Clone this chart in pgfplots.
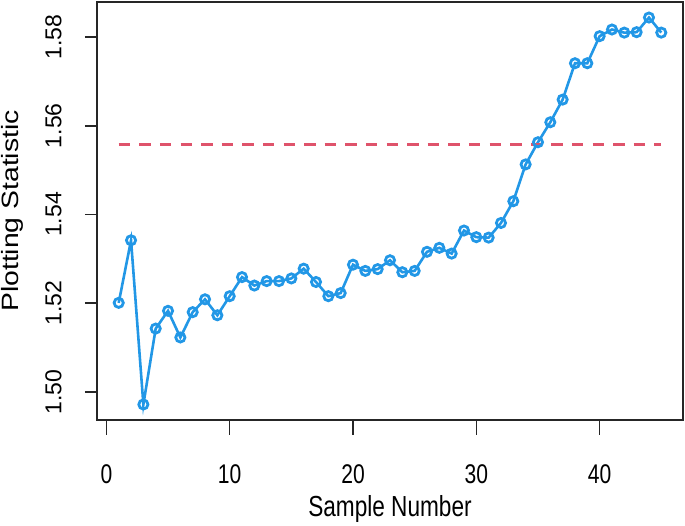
\documentclass[border=0pt]{standalone}
\usepackage{fontspec}
\setmainfont{Liberation Sans}
\newfontfamily\xfont{Liberation Sans}[FakeStretch=0.78]
\newfontfamily\yfont{Liberation Sans}[FakeStretch=1.2]
\usepackage{pgfplots}
\pgfplotsset{compat=1.18}

\definecolor{rblue}{HTML}{2297E6}
\definecolor{rred}{HTML}{DF536B}

\begin{document}
\begin{tikzpicture}
    \begin{axis}[
            scale only axis,
            width=293pt, height=209pt,
            xmin=-0.76, xmax=46.76,
            ymin=1.4937, ymax=1.5879,
            axis line style={line width=0.9pt, black!85},
            tick align=outside,
            xtick pos=bottom, ytick pos=left,
            xtick={0,10,20,30,40},
            ytick={1.50,1.52,1.54,1.56,1.58},
            xtick style={line width=0.8pt, black!85, /pgfplots/major tick length=7.5pt},
            ytick style={line width=0.8pt, black!85, /pgfplots/major tick length=6pt},
            /pgf/number format/assume math mode=true,
            yticklabel style={/pgf/number format/fixed, /pgf/number format/fixed zerofill, /pgf/number format/precision=2},
            xticklabel style={font=\xfont\fontsize{13.5}{14}\selectfont, anchor=base, inner sep=0pt},
            yticklabel style={font=\fontsize{11.5}{12}\selectfont, rotate=90, anchor=base, inner sep=0pt},
            xticklabel shift=27.5pt,
            yticklabel shift=13.5pt,
            xlabel={Sample Number},
            ylabel={Plotting Statistic},
            xlabel style={font=\xfont\fontsize{14.5}{15}\selectfont, at={(axis description cs:0.5,-0.2297)}, anchor=base, inner sep=0pt},
            ylabel style={font=\yfont\fontsize{11.8}{12}\selectfont, at={(axis description cs:-0.1341,0.5)}, anchor=base, inner sep=0pt},
        ]
        \addplot [rblue, line width=1.3pt, mark=o, mark size=2.3pt, mark options={line width=1.4pt}]
        table {%
            x  y
            1  1.5201
            2  1.5342
            3  1.4972
            4  1.5143
            5  1.5183
            6  1.5123
            7  1.5180
            8  1.5209
            9  1.5173
            10 1.5216
            11 1.5259
            12 1.5240
            13 1.5250
            14 1.5250
            15 1.5256
            16 1.5278
            17 1.5248
            18 1.5216
            19 1.5223
            20 1.5287
            21 1.5273
            22 1.5277
            23 1.5297
            24 1.5270
            25 1.5273
            26 1.5316
            27 1.5325
            28 1.5312
            29 1.5364
            30 1.5349
            31 1.5348
            32 1.5381
            33 1.5430
            34 1.5513
            35 1.5563
            36 1.5608
            37 1.5659
            38 1.5741
            39 1.5741
            40 1.5802
            41 1.5817
            42 1.5810
            43 1.5811
            44 1.5844
            45 1.5810
        };
        % critical limit
        \addplot [rred, line width=1.6pt, dash pattern=on 5.7pt off 4.6pt]
        coordinates {(1,1.5558) (45,1.5558)};
    \end{axis}
    \pgfresetboundingbox
    \useasboundingbox ([shift={(-48.5pt,-53pt)}]current axis.south west)
        rectangle ([shift={(1pt,1pt)}]current axis.north east);
\end{tikzpicture}
\end{document}
